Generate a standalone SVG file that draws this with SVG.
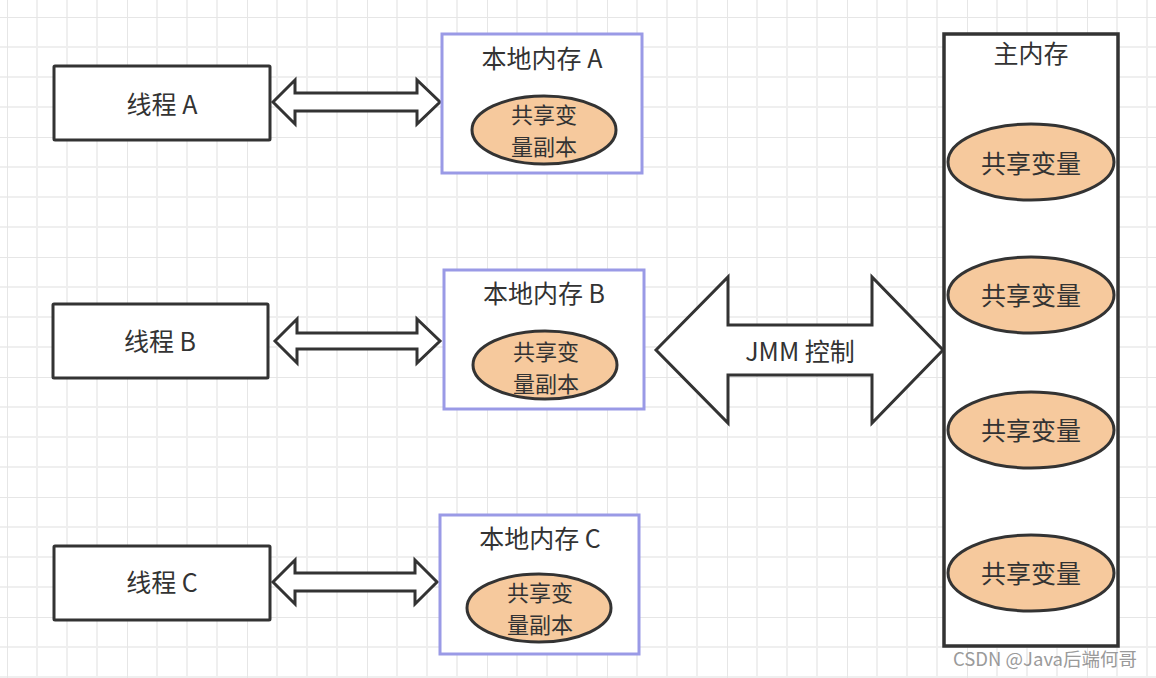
<svg xmlns="http://www.w3.org/2000/svg" width="1156" height="678" viewBox="0 0 1156 678">
  <defs>
    <pattern id="grid" patternUnits="userSpaceOnUse" x="7" y="17" width="120" height="120">
      <path d="M30 0V120M60 0V120M90 0V120M0 30H120M0 60H120M0 90H120" stroke="#efefef" stroke-width="2" fill="none"/>
      <path d="M0 0V120M0 0H120" stroke="#e6e6e6" stroke-width="2" fill="none"/>
    </pattern>
    <style>
      text { font-family: "Noto Sans CJK SC", "Noto Sans", sans-serif; fill: #333; text-anchor: middle; }
      .lbl { font-size: 25px; }
      .two { font-size: 22px; }
      .thread { fill: #fff; stroke: #333; stroke-width: 3; }
      .local { fill: #fff; stroke: #9a9ae6; stroke-width: 3; }
      .main { fill: #fff; stroke: #333; stroke-width: 3.5; }
      .var { fill: #f6c99d; stroke: #333; stroke-width: 3; }
      .arrow { fill: #fff; stroke: #333; stroke-width: 3; stroke-linejoin: miter; }
      .wm { font-size: 18.5px; fill: #9a9a9a; text-anchor: start; font-family: "Noto Sans CJK SC", "Liberation Sans", sans-serif; }
    </style>
  </defs>
  <rect width="1156" height="678" fill="#fff"/>
  <rect width="1156" height="678" fill="url(#grid)"/>

  <g id="connectors">
    <path class="arrow" d="M273 102 L295 80 L295 93 L417 93 L417 80 L440 102 L417 124 L417 111 L295 111 L295 124 Z"/>
    <path class="arrow" d="M275 341 L297 319 L297 333 L417 333 L417 319 L440 341 L417 363 L417 349 L297 349 L297 363 Z"/>
    <path class="arrow" d="M273 582 L295 560 L295 573 L415 573 L415 560 L437 582 L415 604 L415 591 L295 591 L295 604 Z"/>
    <path class="arrow" d="M656 350 L728 277 L728 325 L872 325 L872 277 L943 350 L872 423 L872 375 L728 375 L728 423 Z"/>
    <text class="lbl" x="800" y="361">JMM 控制</text>
  </g>

  <g id="thread-a">
    <rect class="thread" x="54" y="66" width="216" height="74" rx="1"/>
    <text class="lbl" x="162" y="114">线程 A</text>
  </g>
  <g id="thread-b">
    <rect class="thread" x="53" y="304" width="215" height="74" rx="1"/>
    <text class="lbl" x="160" y="351">线程 B</text>
  </g>
  <g id="thread-c">
    <rect class="thread" x="54" y="546" width="216" height="74" rx="1"/>
    <text class="lbl" x="162" y="592">线程 C</text>
  </g>

  <g id="local-a">
    <rect class="local" x="442" y="34" width="200" height="139"/>
    <text class="lbl" x="542" y="68">本地内存 A</text>
    <ellipse class="var" cx="544" cy="130" rx="72" ry="34"/>
    <text class="two" x="544" y="123">共享变</text>
    <text class="two" x="544" y="155">量副本</text>
  </g>
  <g id="local-b">
    <rect class="local" x="444" y="270" width="200" height="139"/>
    <text class="lbl" x="544" y="303">本地内存 B</text>
    <ellipse class="var" cx="545" cy="365" rx="72" ry="34"/>
    <text class="two" x="546" y="359.5">共享变</text>
    <text class="two" x="546" y="391.5">量副本</text>
  </g>
  <g id="local-c">
    <rect class="local" x="440" y="515" width="199" height="139"/>
    <text class="lbl" x="540" y="548">本地内存 C</text>
    <ellipse class="var" cx="539" cy="608" rx="72" ry="34"/>
    <text class="two" x="540" y="600.5">共享变</text>
    <text class="two" x="540" y="632.5">量副本</text>
  </g>

  <g id="main-memory">
    <rect class="main" x="944" y="34" width="174" height="612"/>
    <text class="lbl" x="1031" y="63">主内存</text>
    <ellipse class="var" cx="1031" cy="162" rx="83" ry="38"/>
    <text class="lbl" x="1031" y="173">共享变量</text>
    <ellipse class="var" cx="1031" cy="295" rx="83" ry="38"/>
    <text class="lbl" x="1031" y="305">共享变量</text>
    <ellipse class="var" cx="1031" cy="430" rx="83" ry="38"/>
    <text class="lbl" x="1031" y="440">共享变量</text>
    <ellipse class="var" cx="1031" cy="573" rx="83" ry="38"/>
    <text class="lbl" x="1031" y="583">共享变量</text>
  </g>

  <text class="wm" x="953" y="666">CSDN @Java后端何哥</text>
</svg>
